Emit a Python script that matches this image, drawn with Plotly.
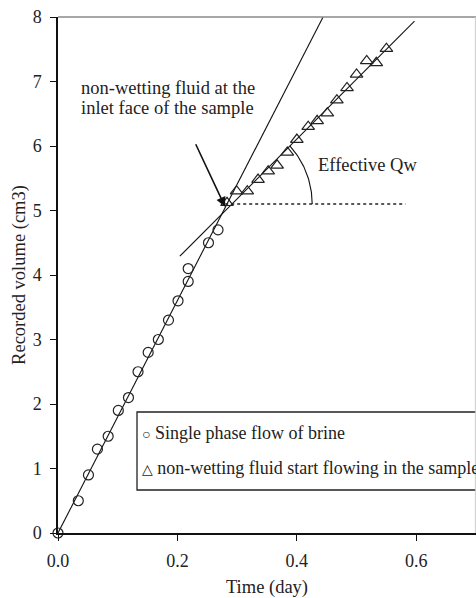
import numpy as np
import plotly.graph_objects as go

# ---------------- data ----------------
brine_time = [0.0, 0.034, 0.051, 0.066, 0.084, 0.101, 0.118, 0.134, 0.151,
              0.168, 0.185, 0.201, 0.218, 0.218, 0.252, 0.268]
brine_volume = [0.0, 0.5, 0.9, 1.3, 1.5, 1.9, 2.1, 2.5, 2.8,
                3.0, 3.3, 3.6, 3.9, 4.1, 4.5, 4.7]

nw_time = [0.283, 0.299, 0.317, 0.335, 0.352, 0.367, 0.384, 0.400, 0.419,
           0.434, 0.451, 0.467, 0.484, 0.500, 0.517, 0.533, 0.550]
nw_volume = [5.12, 5.30, 5.30, 5.48, 5.61, 5.70, 5.90, 6.10, 6.30,
             6.39, 6.51, 6.71, 6.90, 7.11, 7.32, 7.29, 7.51]

x_ticks = [0.0, 0.2, 0.4, 0.6]
x_tick_text = ["0.0", "0.2", "0.4", "0.6"]
y_ticks = [0, 1, 2, 3, 4, 5, 6, 7, 8]

X_RANGE = [0, 0.7]
Y_RANGE = [0, 8]

# trend line extents / annotation geometry
TREND2_X = [0.204, 0.597]
JUNCTION = (0.28, 5.1)
DOTTED_END_X = 0.582
ARC_RADIUS_PX = 87
ARC_ANGLE_DEG = 42
ARROW_TAIL = (0.2295, 6.05)
ARROW_HEAD = (0.2797, 5.06)

legend_labels = ["Single phase flow of brine",
                 "non-wetting fluid start flowing in the sample"]

# ---------------- layout geometry ----------------
W, H = 476, 598
ML, MR, MT, MB = 58, 0, 17, 65
plot_w = W - ML - MR
plot_h = H - MT - MB
ppx = plot_w / (X_RANGE[1] - X_RANGE[0])
ppy = plot_h / (Y_RANGE[1] - Y_RANGE[0])

FONT = "Liberation Serif, Times New Roman, DejaVu Serif, serif"
TXT = "#222222"
FS = 18.5
TICK_FS = 18
LEG_FS = 18

# ---------------- fitted lines ----------------
bt = np.array(brine_time)
bv = np.array(brine_volume)
slope1 = float((bt * bv).sum() / (bt * bt).sum())
line1_x = [0.0, Y_RANGE[1] / slope1]
line1_y = [0.0, Y_RANGE[1]]

s2, c2 = np.polyfit(nw_time, nw_volume, 1)
line2_x = TREND2_X
line2_y = [s2 * x + c2 for x in TREND2_X]

# arc (circular in screen space)
th = np.radians(np.linspace(0, ARC_ANGLE_DEG, 40))
arc_x = JUNCTION[0] + ARC_RADIUS_PX * np.cos(th) / ppx
arc_y = JUNCTION[1] + ARC_RADIUS_PX * np.sin(th) / ppy

fig = go.Figure()

fig.add_trace(go.Scatter(x=line1_x, y=line1_y, mode="lines",
                         line=dict(color="#111111", width=1.1),
                         showlegend=False, hoverinfo="skip"))
fig.add_trace(go.Scatter(x=line2_x, y=line2_y, mode="lines",
                         line=dict(color="#111111", width=1.1),
                         showlegend=False, hoverinfo="skip"))
fig.add_trace(go.Scatter(x=[JUNCTION[0], DOTTED_END_X], y=[JUNCTION[1], JUNCTION[1]],
                         mode="lines", line=dict(color="#222222", width=1.6, dash="dot"),
                         showlegend=False, hoverinfo="skip"))
fig.add_trace(go.Scatter(x=arc_x, y=arc_y, mode="lines",
                         line=dict(color="#111111", width=1.1),
                         showlegend=False, hoverinfo="skip"))

fig.add_trace(go.Scatter(x=brine_time, y=brine_volume, mode="markers",
                         name=legend_labels[0],
                         marker=dict(symbol="circle-open", size=10, color="#222222",
                                     line=dict(color="#222222", width=1.2)),
                         showlegend=False, cliponaxis=False))
fig.add_trace(go.Scatter(x=nw_time, y=nw_volume, mode="markers",
                         name=legend_labels[1],
                         marker=dict(symbol="triangle-up-open", size=11, color="#222222",
                                     line=dict(color="#222222", width=1.2)),
                         showlegend=False, cliponaxis=False))

# arrow
fig.add_annotation(x=ARROW_HEAD[0], y=ARROW_HEAD[1], ax=ARROW_TAIL[0], ay=ARROW_TAIL[1],
                   xref="x", yref="y", axref="x", ayref="y", text="",
                   showarrow=True, arrowhead=2, arrowsize=1.2, arrowwidth=1.6,
                   arrowcolor="#111111", standoff=0)

# text annotations
fig.add_annotation(x=0.0368, y=6.90, xref="x", yref="y", xanchor="left", yanchor="middle",
                   text="non-wetting fluid at the", showarrow=False, borderpad=0,
                   font=dict(family=FONT, size=FS, color=TXT))
fig.add_annotation(x=0.0368, y=6.59, xref="x", yref="y", xanchor="left", yanchor="middle",
                   text="inlet face of the sample", showarrow=False, borderpad=0,
                   font=dict(family=FONT, size=FS, color=TXT))
fig.add_annotation(x=0.434, y=5.71, xref="x", yref="y", xanchor="left", yanchor="middle",
                   text="Effective Qw", showarrow=False, borderpad=0,
                   font=dict(family=FONT, size=FS, color=TXT))

# hand-made legend box
def px_to_paper_x(px):
    return (px - ML) / plot_w

def py_to_paper_y(py):
    return (H - MB - py) / plot_h

fig.add_shape(type="rect", xref="paper", yref="paper",
              x0=px_to_paper_x(137), x1=px_to_paper_x(560),
              y0=py_to_paper_y(490), y1=py_to_paper_y(412),
              line=dict(color="#222222", width=1.3), fillcolor="white", layer="above")
fig.add_annotation(x=px_to_paper_x(141), y=py_to_paper_y(433), xref="paper", yref="paper",
                   xanchor="left", yanchor="middle", showarrow=False, borderpad=0,
                   text="<span style='font-size:14px'>○</span> " + legend_labels[0],
                   font=dict(family=FONT, size=LEG_FS, color=TXT))
fig.add_annotation(x=px_to_paper_x(141), y=py_to_paper_y(468), xref="paper", yref="paper",
                   xanchor="left", yanchor="middle", showarrow=False, borderpad=0,
                   text="<span style='font-size:14px'>△</span> " + legend_labels[1],
                   font=dict(family=FONT, size=LEG_FS, color=TXT))

# top / right borders (gray)
fig.add_shape(type="line", xref="paper", yref="paper", x0=0, x1=1, y0=1, y1=1,
              line=dict(color="#8a8a8a", width=1.5), layer="above")
fig.add_shape(type="line", xref="paper", yref="paper", x0=0.9985, x1=0.9985, y0=0, y1=1,
              line=dict(color="#cccccc", width=1), layer="above")

fig.update_layout(
    width=W, height=H,
    margin=dict(l=ML, r=MR, t=MT, b=MB, pad=0, autoexpand=False),
    paper_bgcolor="white", plot_bgcolor="white",
    font=dict(family=FONT, size=FS, color=TXT),
    showlegend=False,
    xaxis=dict(range=X_RANGE, tickvals=x_ticks, ticktext=x_tick_text, automargin=False,
               showgrid=False, zeroline=False, showline=True,
               linecolor="#111111", linewidth=1.5, ticks="outside", ticklen=6,
               tickwidth=1.2, tickcolor="#111111", ticklabelstandoff=5,
               tickfont=dict(family=FONT, size=TICK_FS, color=TXT),
               title=dict(text="Time (day)", font=dict(family=FONT, size=FS, color=TXT),
                          standoff=12)),
    yaxis=dict(range=Y_RANGE, tickvals=y_ticks, automargin=False,
               showgrid=False, zeroline=False, showline=True,
               linecolor="#111111", linewidth=1.5, ticks="outside", ticklen=6,
               tickwidth=1.2, tickcolor="#111111", ticklabelstandoff=5,
               tickfont=dict(family=FONT, size=TICK_FS, color=TXT),
               title=dict(text="Recorded volume (cm3)",
                          font=dict(family=FONT, size=FS, color=TXT), standoff=2)),
)

fig.write_html("out.html", config={"displayModeBar": False},
               post_script="document.body.style.margin='0';document.body.style.overflow='hidden';")
